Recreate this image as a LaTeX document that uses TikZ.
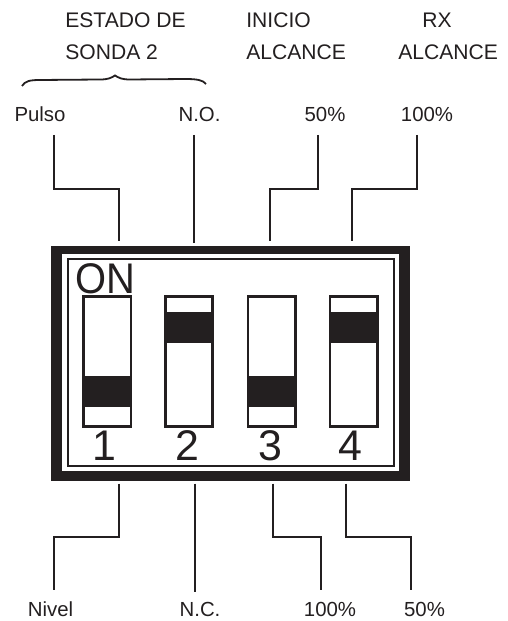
\documentclass[tikz,border=0pt]{standalone}
\usepackage{fontspec}
\setmainfont{Liberation Sans}

\begin{document}
\begin{tikzpicture}[x=0.02cm,y=-0.02cm,line cap=butt,line join=miter]

% Colors
\definecolor{inkblack}{RGB}{35,31,32}

% Styles
\tikzset{
  pinlabel/.style={font=\fontsize{11.6}{14}\selectfont,text=inkblack,inner sep=0pt,anchor=base},
  grouplabel/.style={font=\fontsize{12}{14}\selectfont,text=inkblack,inner sep=0pt,anchor=base west},
  bigglyph/.style={font=\fontsize{24.4}{28}\selectfont,text=inkblack,inner sep=0pt,anchor=base},
  pinline/.style={draw=inkblack,line width=0.4mm},
  switchbody/.style={draw=inkblack,fill=white,line width=0.54mm,minimum width=0.946cm,minimum height=2.594cm,inner sep=0pt},
  switchslider/.style={fill=inkblack,minimum width=1cm,minimum height=0.632cm,inner sep=0pt}
}

\useasboundingbox (0,0) rectangle (507,621);

% Case of the switch
\node[fill=inkblack,minimum width=7.18cm,minimum height=4.694cm,inner sep=0pt] (caseouter) at (230.5,363.4) {};
\node[fill=white,minimum width=6.734cm,minimum height=4.34cm,inner sep=0pt] (casewhite) at (230.7,362.5) {};
\node[draw=inkblack,line width=0.5mm,minimum width=6.52cm,minimum height=4.14cm,inner sep=0pt] (caseinner) at (230.85,362.45) {};

% Four switches with their sliders and digits
\foreach \nn/\xx/\yy/\tx in {1/107.3/391.5/104,2/188.9/327.5/187.7,3/271.7/391.5/270,4/353.5/327.5/350} {
  \node[switchbody] (sw\nn) at (\xx,361.5) {};
  \node[switchslider] (slider\nn) at (\xx,\yy) {};
  \node[bigglyph] (digit\nn) at (\tx,460.7) {\nn};
}
\node[bigglyph,anchor=base west,xscale=0.93] (onlabel) at (75,293) {ON};

% Top labels
\node[grouplabel] (estado) at (65,28) {ESTADO DE};
\node[grouplabel] (sonda) at (65,60) {SONDA 2};
\node[grouplabel] (inicio) at (246,28) {INICIO};
\node[grouplabel] (inicioalc) at (246,60) {ALCANCE};
\node[grouplabel,anchor=base] (rx) at (437,28) {RX};
\node[grouplabel] (rxalc) at (398,60) {ALCANCE};
\node[pinlabel] (pulso) at (40,122) {Pulso};
\node[pinlabel] (no) at (199.5,122) {N.O.};
\node[pinlabel] (startfifty) at (325,122) {50\%};
\node[pinlabel] (rxhundred) at (427,122) {100\%};

% Bottom labels
\node[pinlabel] (nivel) at (50.5,616.7) {Nivel};
\node[pinlabel] (nc) at (200,616.7) {N.C.};
\node[pinlabel] (starthundred) at (330,616.7) {100\%};
\node[pinlabel] (rxfifty) at (424.5,616.7) {50\%};

% Brace over the first two labels
\draw[draw=inkblack,line width=0.36mm] (22,86) .. controls (25,81) and (30,80) .. (40,80)
  -- (100,79.5) .. controls (108,79.5) and (111,78) .. (115,75.5)
  .. controls (119,78) and (122,79.5) .. (130,79.5)
  -- (185,79) .. controls (197,79) and (203,80) .. (206,84);

% Free ends of the connectors
\coordinate (pulsoend) at (53.7,135);
\coordinate (noend) at (194.3,135);
\coordinate (startfiftyend) at (318,135);
\coordinate (rxhundredend) at (417,135);
\coordinate (pintop1) at (118.7,241.5);
\coordinate (pintop2) at (194.3,243.3);
\coordinate (pintop3) at (270.3,241.5);
\coordinate (pintop4) at (352,241.5);
\coordinate (pinbot1) at (119.3,483.5);
\coordinate (pinbot2) at (194.7,483.5);
\coordinate (pinbot3) at (273.3,483.5);
\coordinate (pinbot4) at (345.7,483.5);
\coordinate (nivelend) at (54,590);
\coordinate (ncend) at (194.7,592);
\coordinate (starthundredend) at (321.3,590);
\coordinate (rxfiftyend) at (410.7,590);

% Connectors above the case
\draw[pinline] (pulsoend) |- (118.7,188.7) -- (pintop1);
\draw[pinline] (noend) -- (pintop2);
\draw[pinline] (startfiftyend) |- (270.3,188.7) -- (pintop3);
\draw[pinline] (rxhundredend) |- (352,188.7) -- (pintop4);

% Connectors below the case
\draw[pinline] (pinbot1) |- (54,537) -- (nivelend);
\draw[pinline] (pinbot2) -- (ncend);
\draw[pinline] (pinbot3) |- (321.3,537) -- (starthundredend);
\draw[pinline] (pinbot4) |- (410.7,537) -- (rxfiftyend);

\end{tikzpicture}
\end{document}
